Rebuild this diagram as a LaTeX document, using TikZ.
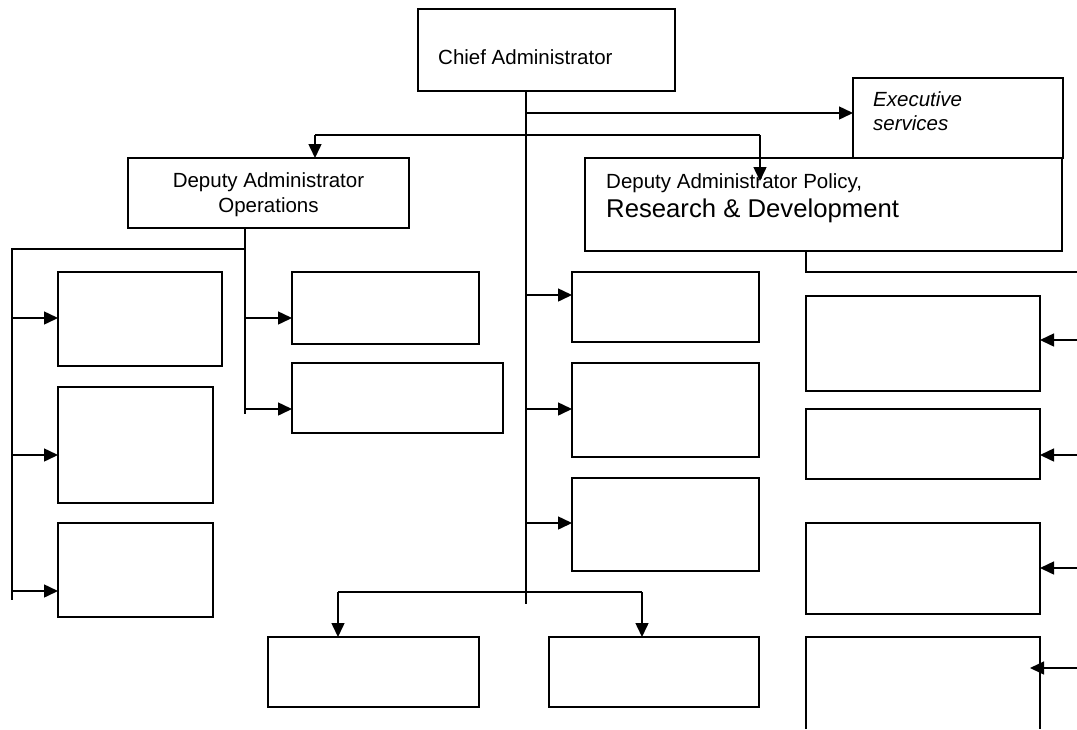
\documentclass[tikz,border=0pt]{standalone}
\usepackage{fontspec}
\setmainfont{Liberation Sans}
\usetikzlibrary{arrows.meta}
\begin{document}
\begin{tikzpicture}[x=1pt,y=-1pt,
  box/.style={draw, line width=1.5pt, rectangle, inner sep=0pt, outer sep=0pt, anchor=north west},
  conn/.style={line width=1.5pt},
  arr/.style={line width=1.5pt, -{Triangle[length=14pt,width=13pt]}},
  txt/.style={inner sep=0pt, anchor=base west, font=\fontsize{20.5}{24.5}\selectfont},
  ctxt/.style={inner sep=0pt, anchor=base, font=\fontsize{20.5}{24.5}\selectfont}]
\useasboundingbox (0,0) rectangle (1077,729);
% boxes
\node[box, minimum width=257, minimum height=82] (chief) at (418,9) {};
\node[box, minimum width=210, minimum height=80] (exec) at (853,78) {};
\node[box, minimum width=477, minimum height=93, fill=white] (dap) at (585,158) {};
\node[box, minimum width=281, minimum height=70] (ops) at (128,158) {};
\node[box, minimum width=164, minimum height=94] (L1) at (58,272) {};
\node[box, minimum width=155, minimum height=116] (L2) at (58,387) {};
\node[box, minimum width=155, minimum height=94] (L3) at (58,523) {};
\node[box, minimum width=187, minimum height=72] (M1) at (292,272) {};
\node[box, minimum width=211, minimum height=70] (M2) at (292,363) {};
\node[box, minimum width=187, minimum height=70] (C1) at (572,272) {};
\node[box, minimum width=187, minimum height=94] (C2) at (572,363) {};
\node[box, minimum width=187, minimum height=93] (C3) at (572,478) {};
\node[box, minimum width=211, minimum height=70] (B1) at (268,637) {};
\node[box, minimum width=210, minimum height=70] (B2) at (549,637) {};
\node[box, minimum width=234, minimum height=95] (R1) at (806,296) {};
\node[box, minimum width=234, minimum height=70] (R2) at (806,409) {};
\node[box, minimum width=234, minimum height=91] (R3) at (806,523) {};
\node[box, draw=none, minimum width=234, minimum height=92] (R4) at (806,637) {};
\draw[conn] (R4.south west) -- (R4.north west) -- (R4.north east) -- (R4.south east);
% texts
\node[txt] (tchief) at (438,64) {Chief Administrator};
\node[txt] (texec1) at (873,106) {\itshape Executive};
\node[txt] (texec2) at (873,130) {\itshape services};
\node[txt] (tdap1) at (606,188) {Deputy Administrator Policy,};
\node[txt, font=\fontsize{25.7}{30}\selectfont] (tdap2) at (606,217) {Research \& Development};
\node[ctxt] (tops1) at (268.5,187) {Deputy Administrator};
\node[ctxt] (tops2) at (268.5,212) {Operations};
% trunk coordinates
\coordinate (t0) at (chief.south -| 526,0);
\coordinate (tend) at (526,604);
\coordinate (tx) at (526,113);
\coordinate (ty) at (526,135);
\coordinate (tyL) at (315,135);
\coordinate (tyR) at (760,135);
\coordinate (dapTip) at (760,181);
\draw[conn] (t0) -- (tend);
\draw[arr] (tx) -- (exec.west |- tx);
\draw[conn] (tyL) -- (tyR);
\draw[arr] (tyL) -- (ops.north -| tyL);
\draw[arr] (tyR) -- (dapTip);
% operations branch
\coordinate (o0) at (ops.south -| 245,0);
\coordinate (oend) at (245,414);
\coordinate (oh) at (245,249);
\coordinate (lh) at (12,249);
\coordinate (lend) at (12,600);
\draw[conn] (o0) -- (oend);
\draw[conn] (oh) -- (lh) -- (lend);
\draw[arr] (12,318) -- (L1.west |- 0,318);
\draw[arr] (12,455) -- (L2.west |- 0,455);
\draw[arr] (12,591) -- (L3.west |- 0,591);
\draw[arr] (245,318) -- (M1.west |- 0,318);
\draw[arr] (245,409) -- (M2.west |- 0,409);
% central branch
\draw[arr] (526,295) -- (C1.west |- 0,295);
\draw[arr] (526,409) -- (C2.west |- 0,409);
\draw[arr] (526,523) -- (C3.west |- 0,523);
\coordinate (bL) at (338,592);
\coordinate (bR) at (642,592);
\draw[conn] (bL) -- (bR);
\draw[arr] (bL) -- (B1.north -| bL);
\draw[arr] (bR) -- (B2.north -| bR);
% policy branch
\coordinate (p0) at (dap.south -| 806,0);
\coordinate (p1) at (806,272);
\coordinate (p2) at (1077,272);
\draw[conn] (p0) -- (p1) -- (p2);
\draw[arr] (1077,340) -- (R1.east |- 0,340);
\draw[arr] (1077,455) -- (R2.east |- 0,455);
\draw[arr] (1077,568) -- (R3.east |- 0,568);
\coordinate (r4tip) at (1030,668);
\draw[arr] (1077,668) -- (r4tip);
\end{tikzpicture}
\end{document}
